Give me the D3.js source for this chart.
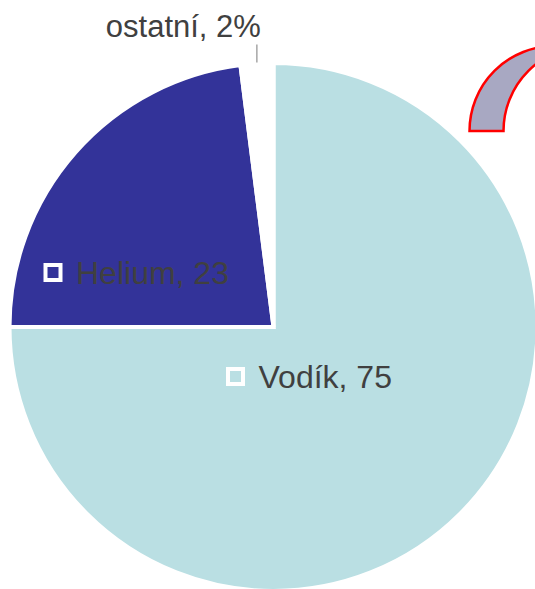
<!DOCTYPE html>
<html>
<head>
<meta charset="utf-8">
<script src="https://cdn.jsdelivr.net/npm/d3@7"></script>
<style>
  html, body { margin: 0; padding: 0; background: #fff; }
  svg { display: block; }
  text { font-family: "Liberation Sans", Arial, sans-serif; fill: #404040; }
</style>
</head>
<body>
<div id="chart"></div>
<script>
// Slozeni vesmiru - pie chart data
var categories = ["Vodík", "Helium", "ostatní"];
var values = [75, 23, 2];
var labels = ["Vodík, 75", "Helium, 23", "ostatní, 2%"];

var width = 535, height = 589;
var cx = 273.5, cy = 327, radius = 264;

var colors = d3.scaleOrdinal()
    .domain(categories)
    .range(["#badfe3", "#333399", "#ffffff"]);

var svg = d3.select("#chart").append("svg")
    .attr("width", width)
    .attr("height", height);

var g = svg.append("g")
    .attr("transform", "translate(" + cx + "," + cy + ")");

var pie = d3.pie().sort(null).startAngle(0).endAngle(2 * Math.PI);
var arcs = pie(values);

var arc = d3.arc().innerRadius(0).outerRadius(radius);

// slices, white borders between them
g.selectAll(".slice")
    .data(arcs).enter()
    .append("path")
        .attr("class", "slice")
        .attr("d", arc)
        .attr("fill", function(d, i) { return colors(categories[i]); })
        .attr("stroke", "#fff")
        .attr("stroke-width", 4)
        .attr("stroke-linejoin", "miter");

// label placement (relative to pie center) - marker box top-left
var labelOffset = [[-45.5, 42], [-228, -62]];

[0, 1].forEach(function(i) {
    var lg = g.append("g")
        .attr("transform", "translate(" + labelOffset[i][0] + "," + labelOffset[i][1] + ")");
    lg.append("rect")
        .attr("x", 0).attr("y", 0)
        .attr("width", 15).attr("height", 15)
        .attr("fill", "none")
        .attr("stroke", "#fff")
        .attr("stroke-width", 4);
    lg.append("text")
        .attr("x", 30.5)
        .attr("y", 18.5)
        .attr("font-size", 32)
        .text(labels[i]);
});

// small slice: label outside with a leader line
var small = arcs[2];
var mid = (small.startAngle + small.endAngle) / 2;
var lx = Math.sin(mid) * (radius + 1);
var ly0 = -Math.cos(mid) * (radius + 1);
var ly1 = -Math.cos(mid) * (radius + 19);
g.append("line")
    .attr("x1", lx).attr("x2", lx)
    .attr("y1", ly0).attr("y2", ly1)
    .attr("stroke", "#a6a6a6")
    .attr("stroke-width", 1.5);
g.append("text")
    .attr("x", lx + 4)
    .attr("y", ly1 - 7.5)
    .attr("text-anchor", "end")
    .attr("font-size", 31)
    .text(labels[2]);

// curved arrow shape in the top right corner (partly off the page)
var p = d3.path();
var oc = [554.5, 131], ic = [588.5, 131], ar = 85;
p.moveTo(oc[0] - ar, oc[1]);
p.arc(oc[0], oc[1], ar, Math.PI, 1.5 * Math.PI, false);
p.lineTo(ic[0], ic[1] - ar);
p.arc(ic[0], ic[1], ar, 1.5 * Math.PI, Math.PI, true);
p.closePath();
svg.append("path")
    .attr("d", p.toString())
    .attr("fill", "#a8a8c2")
    .attr("stroke", "#ff0000")
    .attr("stroke-width", 2.5);
</script>
</body>
</html>
